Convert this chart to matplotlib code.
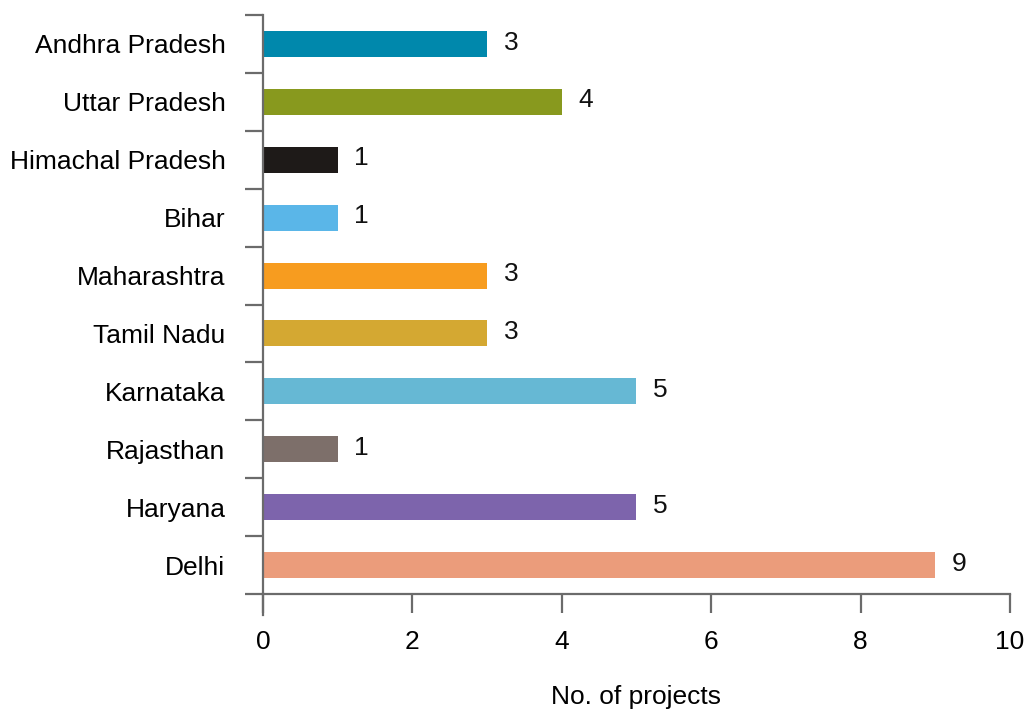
import matplotlib
matplotlib.use("Agg")
import matplotlib.pyplot as plt
import numpy as np

# ===== DATA =====
states = ["Andhra Pradesh", "Uttar Pradesh", "Himachal Pradesh", "Bihar",
          "Maharashtra", "Tamil Nadu", "Karnataka", "Rajasthan", "Haryana", "Delhi"]
projects = [3, 4, 1, 1, 3, 3, 5, 1, 5, 9]
colors = ["#0088ac", "#88991e", "#1e1a18", "#5ab6e8", "#f79c1f",
          "#d4a832", "#66b8d4", "#7d6f6a", "#7d64ac", "#eb9c7b"]
x_ticks = [0, 2, 4, 6, 8, 10]

plt.rcParams['font.family'] = ['Liberation Sans', 'DejaVu Sans']
axis_col = "#6b6b6b"
fs = 19

fig = plt.figure(figsize=(10.26, 7.09), dpi=100)
ax = fig.add_axes([0.2563, 0.1622, 0.9844 - 0.2563, 0.9788 - 0.1622])

# bars from top to bottom
ypos = np.arange(len(states))[::-1]
ax.barh(ypos, projects, height=0.45, color=colors, zorder=2)

for y, v in zip(ypos, projects):
    ax.annotate(str(v), (v, y), xytext=(12, 1), textcoords="offset points",
                ha="left", va="center", fontsize=fs, color="#111111")

ax.set_xlim(0, 10)
ax.set_ylim(-0.5, len(states) - 0.5)

# y axis: labels centred, ticks at category boundaries
ax.set_yticks(ypos)
ax.set_yticklabels(states, fontsize=fs)
ax.set_yticks(np.arange(len(states) + 1) - 0.5, minor=True)
ax.tick_params(axis="y", which="major", length=0, pad=27)
ax.tick_params(axis="y", which="minor", length=13, width=1.6, color=axis_col, direction="out")

# x axis
ax.set_xticks(x_ticks)
ax.set_xticklabels([str(t) for t in x_ticks], fontsize=fs)
ax.tick_params(axis="x", which="major", length=14, width=1.6, color=axis_col, pad=12)
ax.set_xlabel("No. of projects", fontsize=fs, labelpad=22)

for s in ["top", "right"]:
    ax.spines[s].set_visible(False)
for s in ["left", "bottom"]:
    ax.spines[s].set_color(axis_col)
    ax.spines[s].set_linewidth(1.6)

# left spine runs a bit below the x axis
ax.plot([0, 0], [0, -0.036], transform=ax.transAxes, color=axis_col,
        lw=1.6, clip_on=False)

fig.savefig("out.png", dpi=100)
